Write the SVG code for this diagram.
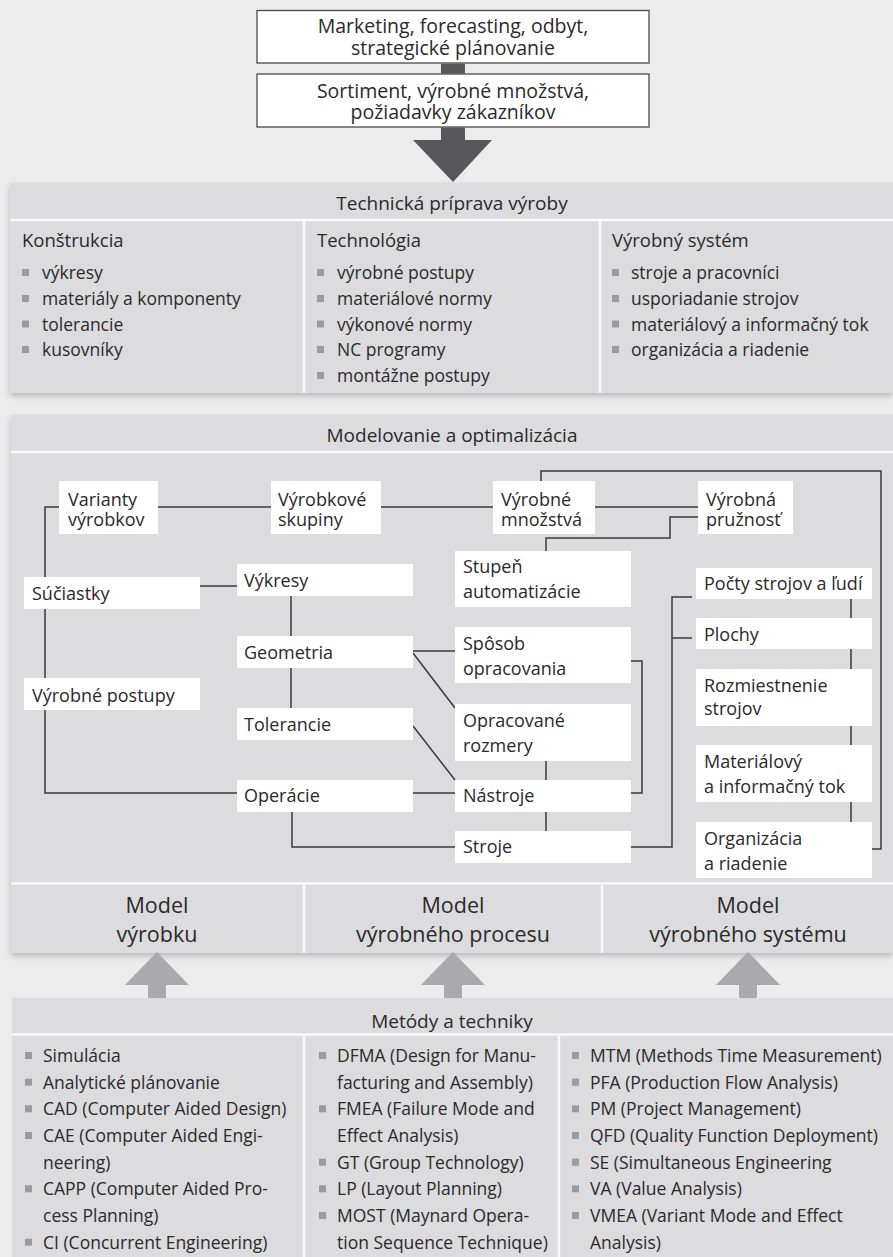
<svg xmlns="http://www.w3.org/2000/svg" width="893" height="1257" viewBox="0 0 893 1257">
  <defs>
    <style>
      .bg { fill: #ececed; }
      .sec { fill: #dcdcde; }
      .sep { stroke: #f9f9f9; stroke-width: 2.5; fill: none; }
      .box { fill: #ffffff; stroke: #4a4a4a; stroke-width: 1.3; }
      .node { fill: #ffffff; }
      .dark { fill: #58585a; }
      .light { fill: #aaaaac; }
      .bul { fill: #9b9b9d; }
      .wire { stroke: #3a3a3a; stroke-width: 1.5; fill: none; }
      text { font-family: "Open Sans", "Noto Sans", sans-serif; fill: #2a2a2a; }
      .top { font-size: 19.5px; text-anchor: middle; }
      .title { font-size: 19px; text-anchor: middle; }
      .head { font-size: 18.5px; }
      .item { font-size: 17.5px; }
      .lbl { font-size: 18px; }
      .model { font-size: 21.5px; text-anchor: middle; }
    </style>
    <filter id="shadow" x="-5%" y="-10%" width="110%" height="125%">
      <feDropShadow dx="0" dy="3" stdDeviation="3" flood-color="#000000" flood-opacity="0.22"/>
    </filter>
    <rect id="b" width="7" height="7" class="bul"/>
  </defs>

  <rect class="bg" x="0" y="0" width="893" height="1257"/>

  <!-- inputs at the top -->
  <g id="marketing">
    <rect class="box" x="257" y="10.5" width="392" height="52.5"/>
    <text class="top" x="453" y="33">Marketing, forecasting, odbyt,</text>
    <text class="top" x="453" y="55">strategické plánovanie</text>
  </g>
  <rect class="dark" x="441" y="63.6" width="24" height="10"/>
  <g id="sortiment">
    <rect class="box" x="257" y="74" width="392" height="53"/>
    <text class="top" x="453" y="98">Sortiment, výrobné množstvá,</text>
    <text class="top" x="453" y="119">požiadavky zákazníkov</text>
  </g>
  <polygon class="dark" points="441,127.6 465,127.6 465,140 492,140 453,182 413,140 441,140"/>

  <!-- Technická príprava výroby -->
  <g id="tpv">
    <rect class="sec" x="10" y="183" width="883" height="210" filter="url(#shadow)"/>
    <line class="sep" x1="10" y1="220" x2="893" y2="220"/>
    <line class="sep" x1="304" y1="221" x2="304" y2="393"/>
    <line class="sep" x1="600" y1="221" x2="600" y2="393"/>
    <text class="title" x="452" y="210">Technická príprava výroby</text>

    <text class="head" x="22" y="247">Konštrukcia</text>
    <use href="#b" x="22" y="269"/><text class="item" x="42" y="279">výkresy</text>
    <use href="#b" x="22" y="295"/><text class="item" x="42" y="305">materiály a komponenty</text>
    <use href="#b" x="22" y="320.5"/><text class="item" x="42" y="330.5">tolerancie</text>
    <use href="#b" x="22" y="346"/><text class="item" x="42" y="356">kusovníky</text>

    <text class="head" x="317" y="247">Technológia</text>
    <use href="#b" x="317" y="269"/><text class="item" x="337" y="279">výrobné postupy</text>
    <use href="#b" x="317" y="295"/><text class="item" x="337" y="305">materiálové normy</text>
    <use href="#b" x="317" y="320.5"/><text class="item" x="337" y="330.5">výkonové normy</text>
    <use href="#b" x="317" y="346"/><text class="item" x="337" y="356">NC programy</text>
    <use href="#b" x="317" y="372"/><text class="item" x="337" y="382">montážne postupy</text>

    <text class="head" x="612" y="247">Výrobný systém</text>
    <use href="#b" x="612" y="269"/><text class="item" x="631" y="279">stroje a pracovníci</text>
    <use href="#b" x="612" y="295"/><text class="item" x="631" y="305">usporiadanie strojov</text>
    <use href="#b" x="612" y="320.5"/><text class="item" x="631" y="330.5">materiálový a informačný tok</text>
    <use href="#b" x="612" y="346"/><text class="item" x="631" y="356">organizácia a riadenie</text>
  </g>

  <!-- Modelovanie a optimalizácia -->
  <g id="mao">
    <rect class="sec" x="11" y="415" width="882" height="538" filter="url(#shadow)"/>
    <line class="sep" x1="11" y1="452" x2="893" y2="452"/>
    <line class="sep" x1="11" y1="883.5" x2="893" y2="883.5"/>
    <line class="sep" x1="304" y1="885" x2="304" y2="953"/>
    <line class="sep" x1="602" y1="885" x2="602" y2="953"/>
    <text class="title" x="452" y="442">Modelovanie a optimalizácia</text>
  </g>

  <!-- connectors between the model elements -->
  <g id="connectors">
    <path class="wire" d="M59,507 H45 V793 H237"/>
    <path class="wire" d="M158,507 H271"/>
    <path class="wire" d="M381,507 H493"/>
    <path class="wire" d="M595,507 H698"/>
    <path class="wire" d="M541,481 V471 H881 V849 H872"/>
    <path class="wire" d="M698,517 H670 V538 H546 V551"/>
    <path class="wire" d="M200,586 H237"/>
    <path class="wire" d="M291,596 V636"/>
    <path class="wire" d="M291,668 V708"/>
    <path class="wire" d="M292,812 V847 H455"/>
    <path class="wire" d="M413,793 H455"/>
    <path class="wire" d="M413,651 H455"/>
    <path class="wire" d="M413,653 L455,708"/>
    <path class="wire" d="M413,726 L455,780"/>
    <path class="wire" d="M631,661 H642 V793 H631"/>
    <path class="wire" d="M546,761 V831"/>
    <path class="wire" d="M631,847 H672 V597 H692"/>
    <path class="wire" d="M672,638 H692"/>
    <path class="wire" d="M851,599 V822"/>
  </g>

  <g id="varianty"><rect class="node" x="59" y="481" width="99" height="53"/><text class="lbl" x="68" y="506">Varianty</text><text class="lbl" x="68" y="526">výrobkov</text></g>
  <g id="skupiny"><rect class="node" x="271" y="481" width="110" height="53"/><text class="lbl" x="278" y="506">Výrobkové</text><text class="lbl" x="278" y="526">skupiny</text></g>
  <g id="mnozstva"><rect class="node" x="493" y="481" width="102" height="53"/><text class="lbl" x="501" y="506">Výrobné</text><text class="lbl" x="501" y="526">množstvá</text></g>
  <g id="pruznost"><rect class="node" x="698" y="481" width="95" height="53"/><text class="lbl" x="706" y="506">Výrobná</text><text class="lbl" x="706" y="526">pružnosť</text></g>

  <g id="suciastky"><rect class="node" x="24" y="577" width="176" height="32"/><text class="lbl" x="32" y="600">Súčiastky</text></g>
  <g id="postupy"><rect class="node" x="24" y="678" width="176" height="32"/><text class="lbl" x="32" y="702">Výrobné postupy</text></g>

  <g id="vykresy"><rect class="node" x="237" y="564" width="176" height="32"/><text class="lbl" x="244" y="587">Výkresy</text></g>
  <g id="geometria"><rect class="node" x="237" y="636" width="176" height="32"/><text class="lbl" x="244" y="659">Geometria</text></g>
  <g id="tolerancie"><rect class="node" x="237" y="708" width="176" height="32"/><text class="lbl" x="244" y="731">Tolerancie</text></g>
  <g id="operacie"><rect class="node" x="237" y="780" width="176" height="32"/><text class="lbl" x="244" y="802">Operácie</text></g>

  <g id="stupen"><rect class="node" x="455" y="551" width="176" height="56"/><text class="lbl" x="463" y="573">Stupeň</text><text class="lbl" x="463" y="598">automatizácie</text></g>
  <g id="sposob"><rect class="node" x="455" y="627" width="176" height="56"/><text class="lbl" x="463" y="650">Spôsob</text><text class="lbl" x="463" y="675">opracovania</text></g>
  <g id="rozmery"><rect class="node" x="455" y="704" width="176" height="57"/><text class="lbl" x="463" y="727">Opracované</text><text class="lbl" x="463" y="752">rozmery</text></g>
  <g id="nastroje"><rect class="node" x="455" y="780" width="176" height="32"/><text class="lbl" x="463" y="802">Nástroje</text></g>
  <g id="stroje"><rect class="node" x="455" y="831" width="176" height="32"/><text class="lbl" x="463" y="853">Stroje</text></g>

  <g id="pocty"><rect class="node" x="696" y="568" width="176" height="31"/><text class="lbl" x="704" y="590">Počty strojov a ľudí</text></g>
  <g id="plochy"><rect class="node" x="696" y="618" width="176" height="31"/><text class="lbl" x="704" y="641">Plochy</text></g>
  <g id="rozmiestnenie"><rect class="node" x="696" y="669" width="176" height="57"/><text class="lbl" x="704" y="692">Rozmiestnenie</text><text class="lbl" x="704" y="715">strojov</text></g>
  <g id="tok"><rect class="node" x="696" y="745" width="176" height="57"/><text class="lbl" x="704" y="768">Materiálový</text><text class="lbl" x="704" y="793">a informačný tok</text></g>
  <g id="organizacia"><rect class="node" x="696" y="822" width="176" height="56"/><text class="lbl" x="704" y="845">Organizácia</text><text class="lbl" x="704" y="870">a riadenie</text></g>

  <!-- the three models -->
  <g id="model-vyrobku"><text class="model" x="157" y="913">Model</text><text class="model" x="157" y="942">výrobku</text></g>
  <g id="model-procesu"><text class="model" x="453" y="913">Model</text><text class="model" x="453" y="942">výrobného procesu</text></g>
  <g id="model-systemu"><text class="model" x="748" y="913">Model</text><text class="model" x="748" y="942">výrobného systému</text></g>

  <!-- methods feed the models -->
  <polygon class="light" points="148,998 166,998 166,985 189,985 157,952 125,985 148,985"/>
  <polygon class="light" points="444,998 462,998 462,985 485,985 453,952 421,985 444,985"/>
  <polygon class="light" points="739,998 757,998 757,985 780,985 748,952 716,985 739,985"/>

  <!-- Metódy a techniky -->
  <g id="metody">
    <rect class="sec" x="12" y="998" width="881" height="270"/>
    <line class="sep" x1="12" y1="1034.5" x2="893" y2="1034.5"/>
    <line class="sep" x1="304" y1="1036" x2="304" y2="1257"/>
    <line class="sep" x1="559" y1="1036" x2="559" y2="1257"/>
    <text class="title" x="452" y="1028">Metódy a techniky</text>

    <use href="#b" x="25" y="1052"/><text class="item" x="43" y="1062">Simulácia</text>
    <use href="#b" x="25" y="1078.7"/><text class="item" x="43" y="1088.7">Analytické plánovanie</text>
    <use href="#b" x="25" y="1105.3"/><text class="item" x="43" y="1115.3">CAD (Computer Aided Design)</text>
    <use href="#b" x="25" y="1132"/><text class="item" x="43" y="1142">CAE (Computer Aided Engi-</text>
    <text class="item" x="43" y="1168.7">neering)</text>
    <use href="#b" x="25" y="1185.3"/><text class="item" x="43" y="1195.3">CAPP (Computer Aided Pro-</text>
    <text class="item" x="43" y="1222">cess Planning)</text>
    <use href="#b" x="25" y="1238.7"/><text class="item" x="43" y="1248.7">CI (Concurrent Engineering)</text>

    <use href="#b" x="319" y="1052"/><text class="item" x="337" y="1062">DFMA (Design for Manu-</text>
    <text class="item" x="337" y="1088.7">facturing and Assembly)</text>
    <use href="#b" x="319" y="1105.3"/><text class="item" x="337" y="1115.3">FMEA (Failure Mode and</text>
    <text class="item" x="337" y="1142">Effect Analysis)</text>
    <use href="#b" x="319" y="1158.7"/><text class="item" x="337" y="1168.7">GT (Group Technology)</text>
    <use href="#b" x="319" y="1185.3"/><text class="item" x="337" y="1195.3">LP (Layout Planning)</text>
    <use href="#b" x="319" y="1212"/><text class="item" x="337" y="1222">MOST (Maynard Opera-</text>
    <text class="item" x="337" y="1248.7">tion Sequence Technique)</text>

    <use href="#b" x="572" y="1052"/><text class="item" x="590" y="1062">MTM (Methods Time Measurement)</text>
    <use href="#b" x="572" y="1078.7"/><text class="item" x="590" y="1088.7">PFA (Production Flow Analysis)</text>
    <use href="#b" x="572" y="1105.3"/><text class="item" x="590" y="1115.3">PM (Project Management)</text>
    <use href="#b" x="572" y="1132"/><text class="item" x="590" y="1142">QFD (Quality Function Deployment)</text>
    <use href="#b" x="572" y="1158.7"/><text class="item" x="590" y="1168.7">SE (Simultaneous Engineering</text>
    <use href="#b" x="572" y="1185.3"/><text class="item" x="590" y="1195.3">VA (Value Analysis)</text>
    <use href="#b" x="572" y="1212"/><text class="item" x="590" y="1222">VMEA (Variant Mode and Effect</text>
    <text class="item" x="590" y="1248.7">Analysis)</text>
  </g>
</svg>
